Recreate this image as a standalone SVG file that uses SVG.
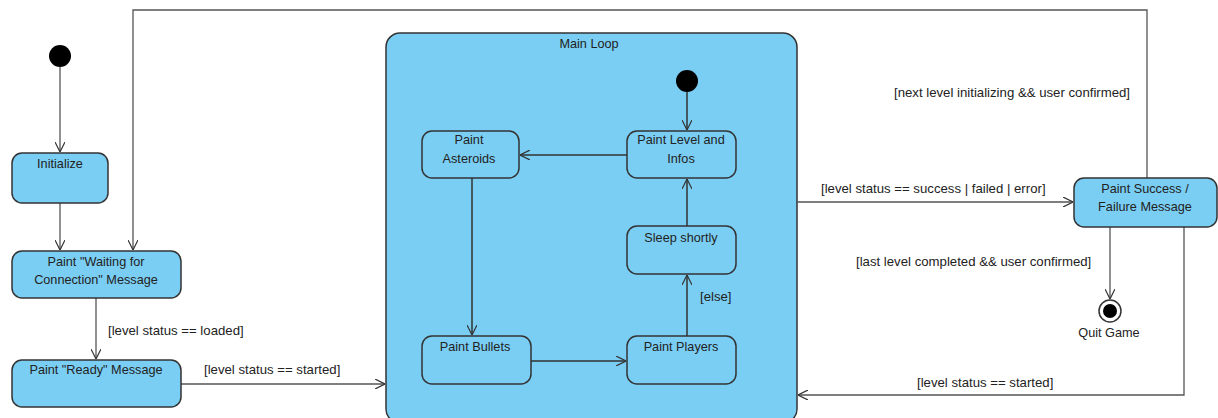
<svg xmlns="http://www.w3.org/2000/svg" width="1218" height="418" viewBox="0 0 1218 418">
<style>
.st{fill:#7acef4;stroke:#333;stroke-width:1.5}
.t{font-family:"Liberation Sans",Arial,sans-serif;font-size:12.7px;fill:#222;text-anchor:middle}
.lb{font-family:"Liberation Sans",Arial,sans-serif;font-size:13.2px;fill:#222}
.c{fill:none;stroke:#555;stroke-width:1.3}
.ci{fill:none;stroke:#333;stroke-width:1.5}
</style>
<defs>
<marker id="a" viewBox="0 0 10 10" refX="10" refY="5" markerWidth="10" markerHeight="10" markerUnits="userSpaceOnUse" orient="auto">
<path d="M0,0 L10,5 L0,10" fill="none" stroke="#333" stroke-width="1.2"/>
</marker>
</defs>
<rect width="1218" height="418" fill="#fff"/>

<g id="main-loop">
<rect class="st" x="386" y="33" width="411" height="390" rx="14"/>
<text class="t" x="589" y="48">Main Loop</text>
</g>

<g id="connectors">
<path class="c" d="M60,67 V152" marker-end="url(#a)"/>
<path class="c" d="M60,203 V250" marker-end="url(#a)"/>
<path class="c" d="M1147,178 V10 H133 V250" marker-end="url(#a)"/>
<path class="c" d="M96,298 V359" marker-end="url(#a)"/>
<path class="c" d="M181,384 H385" marker-end="url(#a)"/>
<path class="c" d="M797,202 H1073" marker-end="url(#a)"/>
<path class="c" d="M1110,227 V299" marker-end="url(#a)"/>
<path class="c" d="M1184,227 V395 H798" marker-end="url(#a)"/>
<path class="ci" d="M687,92 V130" marker-end="url(#a)"/>
<path class="ci" d="M627,155 H520" marker-end="url(#a)"/>
<path class="ci" d="M472,178 V335" marker-end="url(#a)"/>
<path class="ci" d="M531,361 H626" marker-end="url(#a)"/>
<path class="ci" d="M687,336 V275" marker-end="url(#a)"/>
<path class="ci" d="M687,226 V179" marker-end="url(#a)"/>
<text class="lb" x="108" y="335">[level status == loaded]</text>
<text class="lb" x="204" y="374">[level status == started]</text>
<text class="lb" x="894" y="97">[next level initializing &amp;&amp; user confirmed]</text>
<text class="lb" x="821" y="193">[level status == success | failed | error]</text>
<text class="lb" x="856" y="266">[last level completed &amp;&amp; user confirmed]</text>
<text class="lb" x="917" y="387">[level status == started]</text>
<text class="lb" x="700" y="301">[else]</text>
</g>

<g id="start">
<circle cx="60" cy="56" r="11" fill="#000"/>
</g>
<g id="initialize">
<rect class="st" x="12" y="153" width="96" height="50" rx="10"/>
<text class="t" x="60" y="168">Initialize</text>
</g>
<g id="waiting">
<rect class="st" x="12" y="251" width="169" height="47" rx="10"/>
<text class="t" x="96" y="266">Paint "Waiting for</text>
<text class="t" x="96" y="284">Connection" Message</text>
</g>
<g id="ready">
<rect class="st" x="12" y="360" width="169" height="47" rx="10"/>
<text class="t" x="96" y="374">Paint "Ready" Message</text>
</g>

<g id="inner-start">
<circle cx="687" cy="81" r="11" fill="#000"/>
</g>
<g id="paint-level">
<rect class="st" x="627" y="131" width="109" height="47" rx="10"/>
<text class="t" x="681" y="144">Paint Level and</text>
<text class="t" x="681" y="163">Infos</text>
</g>
<g id="paint-asteroids">
<rect class="st" x="422" y="131" width="97" height="47" rx="10"/>
<text class="t" x="469" y="144">Paint</text>
<text class="t" x="469" y="163">Asteroids</text>
</g>
<g id="sleep">
<rect class="st" x="627" y="226" width="109" height="48" rx="10"/>
<text class="t" x="681" y="242">Sleep shortly</text>
</g>
<g id="paint-bullets">
<rect class="st" x="422" y="336" width="109" height="48" rx="10"/>
<text class="t" x="475" y="351">Paint Bullets</text>
</g>
<g id="paint-players">
<rect class="st" x="627" y="336" width="109" height="48" rx="10"/>
<text class="t" x="681" y="351">Paint Players</text>
</g>

<g id="success">
<rect class="st" x="1074" y="178" width="143" height="49" rx="10"/>
<text class="t" x="1145" y="193">Paint Success /</text>
<text class="t" x="1145" y="211">Failure Message</text>
</g>
<g id="quit">
<circle cx="1110" cy="311" r="11" fill="#fff" stroke="#333" stroke-width="1.5"/>
<circle cx="1110" cy="311" r="7" fill="#000"/>
<text class="t" x="1109" y="337">Quit Game</text>
</g>
</svg>
